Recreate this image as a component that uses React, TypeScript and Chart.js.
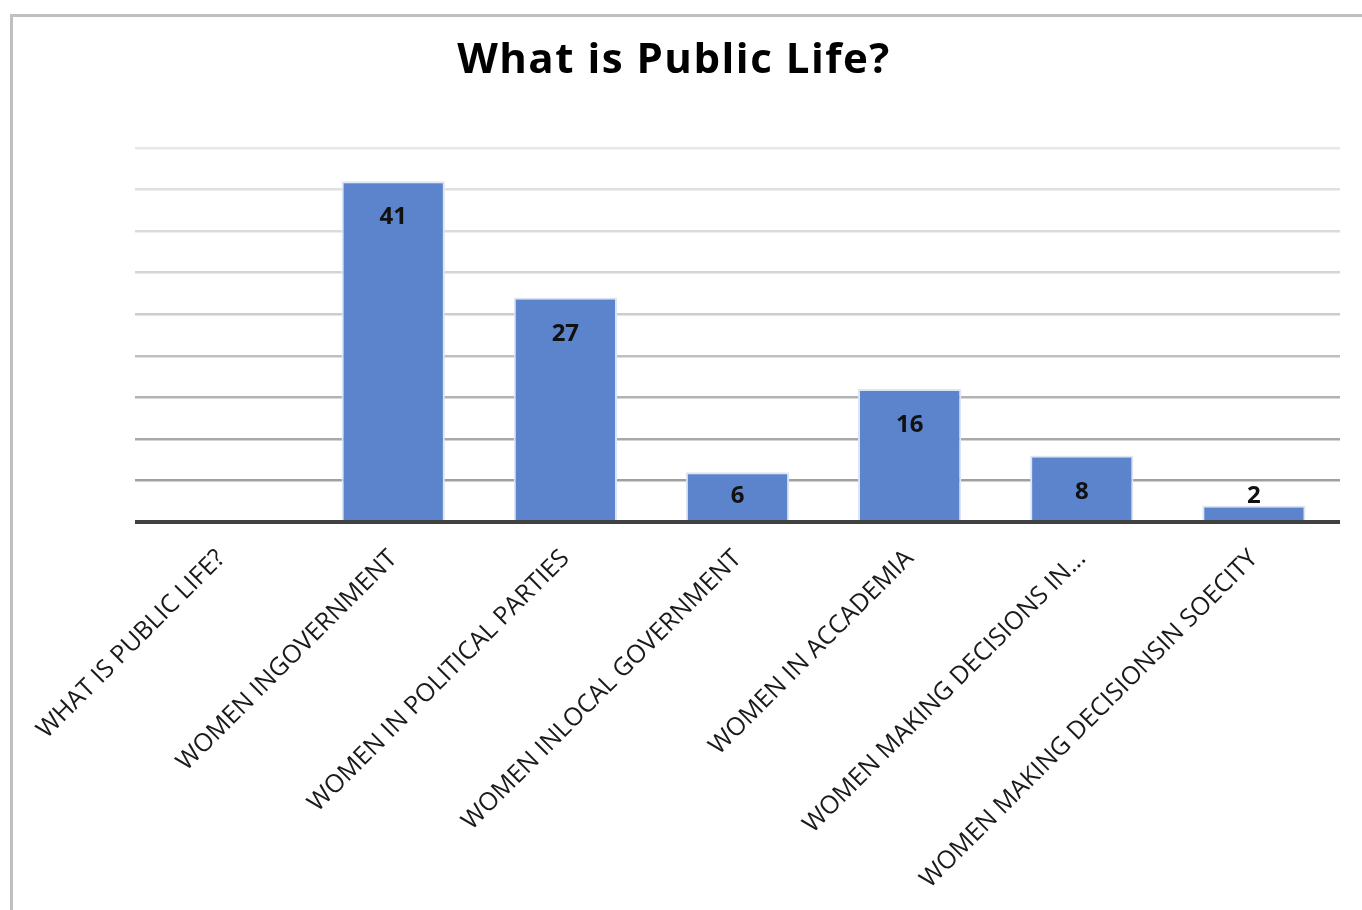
import React, { useEffect, useRef } from "react";
import { Chart, registerables } from "chart.js";

Chart.register(...registerables);

const categories = [
  "WHAT IS PUBLIC LIFE?",
  "WOMEN INGOVERNMENT",
  "WOMEN IN POLITICAL PARTIES",
  "WOMEN INLOCAL GOVERNMENT",
  "WOMEN IN ACCADEMIA",
  "WOMEN MAKING DECISIONS IN...",
  "WOMEN MAKING DECISIONSIN SOECITY",
];
const counts: (number | null)[] = [null, 41, 27, 6, 16, 8, 2];
const yMin = 0;
const yMax = 45;
const yStep = 5;
const titleText = "What is Public Life?";

const gridColors = [
  "#404040",
  "#a0a0a0",
  "#a8a8a8",
  "#b2b2b2",
  "#bfbfbf",
  "#cccccc",
  "#d5d5d5",
  "#dbdbdb",
  "#e0e0e0",
  "#e7e7e7",
];

const titlePlugin = {
  id: "customTitle",
  afterDraw(chart: any) {
    const ctx = chart.ctx;
    ctx.save();
    ctx.font = "bold 42px 'Open Sans'";
    try {
      (ctx as any).letterSpacing = "1.5px";
    } catch (e) {}
    ctx.fillStyle = "#000000";
    ctx.textAlign = "center";
    ctx.textBaseline = "alphabetic";
    ctx.fillText(titleText, 674, 73);
    ctx.restore();
  },
};

const valueLabelPlugin = {
  id: "valueLabels",
  afterDatasetsDraw(chart: any) {
    const ctx = chart.ctx;
    const yScale = chart.scales.y;
    const base = yScale.getPixelForValue(0);
    const area = chart.chartArea;
    // baseline
    ctx.save();
    ctx.strokeStyle = "#404040";
    ctx.lineWidth = 4;
    ctx.beginPath();
    ctx.moveTo(area.left, base);
    ctx.lineTo(area.right, base);
    ctx.stroke();
    ctx.restore();

    const meta = chart.getDatasetMeta(0);
    ctx.save();
    ctx.font = "bold 24px 'Open Sans'";
    ctx.fillStyle = "#111111";
    ctx.textAlign = "center";
    ctx.textBaseline = "alphabetic";
    meta.data.forEach((bar: any, i: number) => {
      const v = counts[i];
      if (v === null || v === undefined) return;
      const y = Math.min(bar.y + 43, base - 19);
      ctx.fillText(String(v), bar.x, y);
    });
    ctx.restore();
  },
};

export default function App() {
  const canvasRef = useRef<HTMLCanvasElement | null>(null);

  useEffect(() => {
    if (!canvasRef.current) return;
    const chart = new Chart(canvasRef.current, {
      type: "bar",
      data: {
        labels: categories,
        datasets: [
          {
            data: counts as any,
            backgroundColor: "#5b84cc",
            borderColor: "#dde5f3",
            borderWidth: 2,
            barPercentage: 0.6,
            categoryPercentage: 1,
          },
        ],
      },
      options: {
        responsive: false,
        animation: false,
        devicePixelRatio: 1,
        layout: { padding: { left: 135, right: 22, top: 148, bottom: 0 } },
        plugins: {
          legend: { display: false },
          tooltip: { enabled: false },
          title: { display: false },
        },
        scales: {
          x: {
            grid: { display: false },
            border: { display: false },
            ticks: {
              minRotation: 45,
              maxRotation: 45,
              autoSkip: false,
              color: "#1a1a1a",
              padding: 14,
              font: { family: "'Open Sans'", size: 25 },
            },
            afterFit: (s: any) => {
              s.height = 388;
            },
          },
          y: {
            min: yMin,
            max: yMax,
            ticks: { display: false, stepSize: yStep },
            border: { display: false },
            grid: {
              drawTicks: false,
              color: (c: any) => gridColors[c.index] || "#e0e0e0",
              lineWidth: (c: any) => (c.index === 0 ? 0 : 2.5),
            },
            afterFit: (s: any) => {
              s.width = 0;
            },
          },
        },
      },
      plugins: [valueLabelPlugin, titlePlugin],
    });
    return () => chart.destroy();
  }, []);

  return (
    <div
      style={{
        position: "fixed",
        left: 0,
        top: 0,
        width: 1362,
        height: 910,
        background: "#ffffff",
        overflow: "hidden",
      }}
    >
      <div
        style={{
          position: "absolute",
          left: 10,
          top: 14,
          width: 1400,
          height: 1000,
          borderLeft: "3px solid #c0c0c0",
          borderTop: "3px solid #c0c0c0",
          boxSizing: "border-box",
        }}
      />
      <canvas
        ref={canvasRef}
        width={1362}
        height={910}
        style={{ position: "absolute", left: 0, top: 0, width: 1362, height: 910 }}
      />
    </div>
  );
}
